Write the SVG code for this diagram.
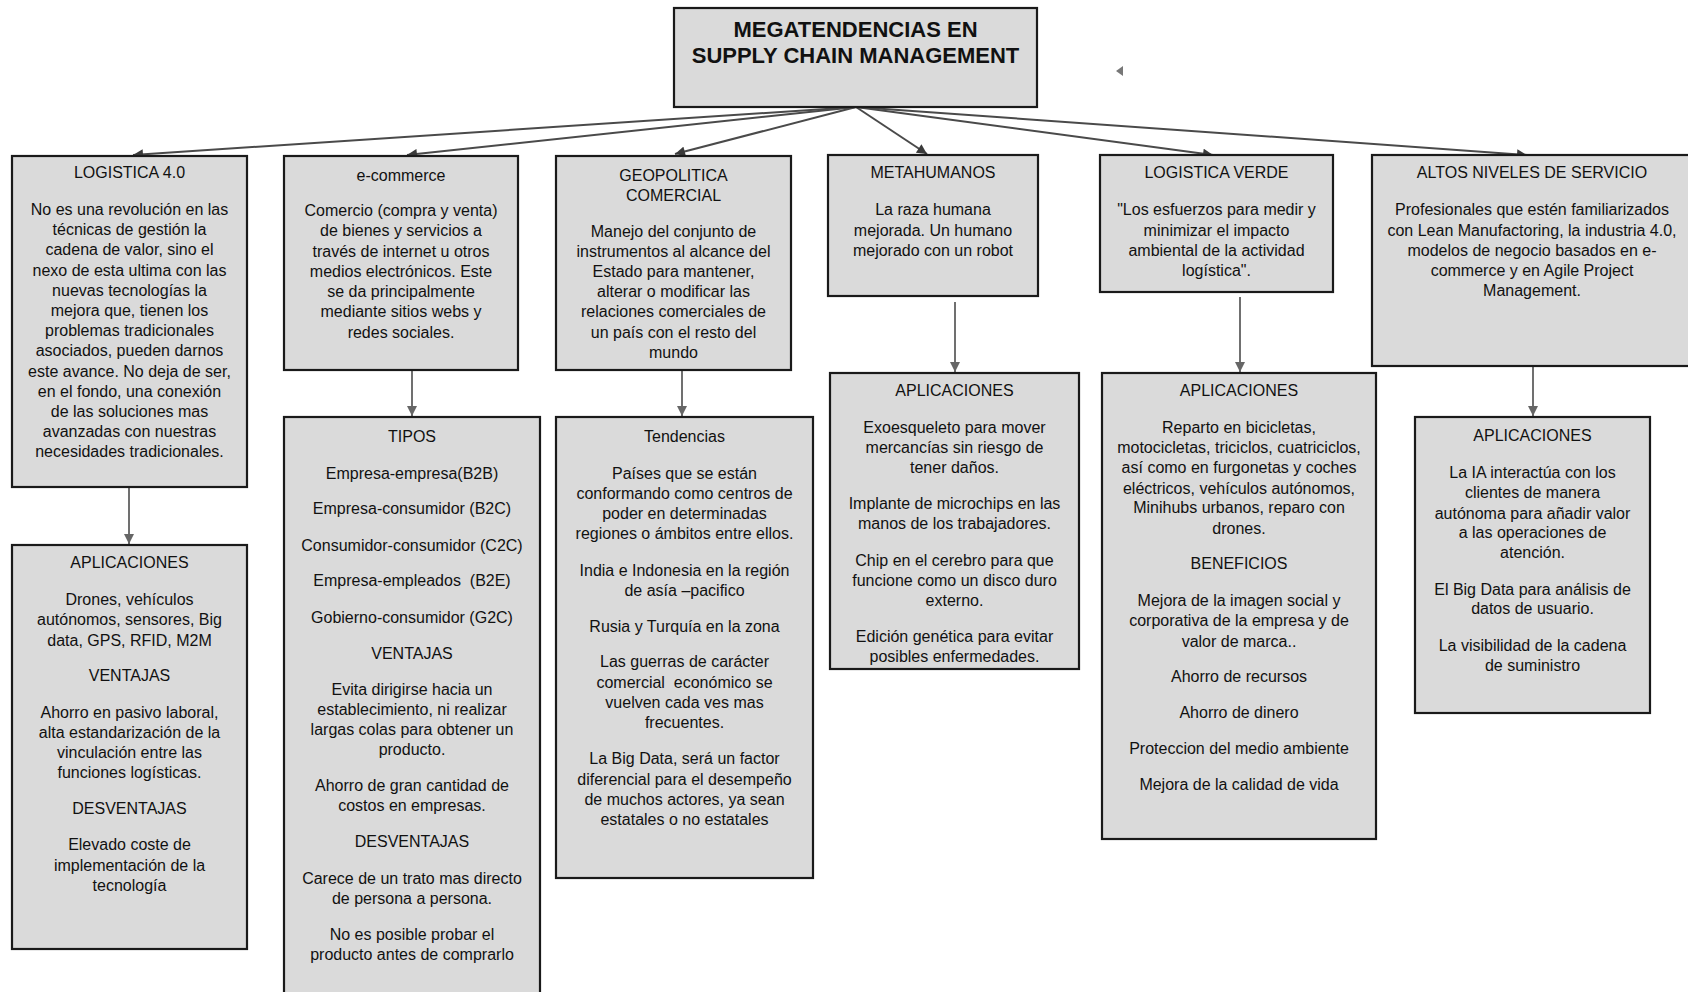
<svg xmlns="http://www.w3.org/2000/svg" width="1688" height="992" viewBox="0 0 1688 992">
  <style>
    .box { fill: #dadada; stroke: #1a1a1a; stroke-width: 2.2; }
    .t { font-family: "Liberation Sans", Arial, sans-serif; font-size: 16px; fill: #111111; text-anchor: middle; }
    .title { font-family: "Liberation Sans", Arial, sans-serif; font-size: 22px; font-weight: bold; fill: #111111; text-anchor: middle; }
    .link { fill: none; stroke: #4a4a4a; stroke-width: 2; marker-end: url(#head); }
    .drop { fill: none; stroke: #707070; stroke-width: 2; marker-end: url(#headGray); }
  </style>
  <defs>
    <marker id="head" viewBox="0 0 10 10" refX="10" refY="5" markerUnits="userSpaceOnUse" markerWidth="12" markerHeight="10" orient="auto">
      <path d="M0,0 L10,5 L0,10 z" fill="#3a3a3a"/>
    </marker>
    <marker id="headGray" viewBox="0 0 10 10" refX="10" refY="5" markerUnits="userSpaceOnUse" markerWidth="12" markerHeight="10" orient="auto">
      <path d="M0,0 L10,5 L0,10 z" fill="#666"/>
    </marker>
  </defs>
  <rect width="1688" height="992" fill="#ffffff"/>

  <!-- connectors -->
  <g id="connectors">
    <line class="link" x1="856" y1="107" x2="133" y2="155"/>
    <line class="link" x1="856" y1="107" x2="407" y2="155"/>
    <line class="link" x1="856" y1="107" x2="675" y2="154"/>
    <line class="link" x1="856" y1="107" x2="927" y2="154"/>
    <line class="link" x1="856" y1="107" x2="1213" y2="155"/>
    <line class="link" x1="856" y1="107" x2="1527" y2="155"/>
    <line class="drop" x1="129" y1="473" x2="129" y2="544"/>
    <line class="drop" x1="412" y1="371" x2="412" y2="416"/>
    <line class="drop" x1="682" y1="371" x2="682" y2="416"/>
    <line class="drop" x1="955" y1="302" x2="955" y2="372"/>
    <line class="drop" x1="1240" y1="297" x2="1240" y2="372"/>
    <line class="drop" x1="1533" y1="367" x2="1533" y2="416"/>
    <polygon points="1116,71 1123,66 1123,76" fill="#777"/>
  </g>

  <g id="root">
    <rect class="box" x="674" y="8" width="363" height="99"/>
    <text class="title" x="855.5" y="37">MEGATENDENCIAS EN</text>
    <text class="title" x="855.5" y="63">SUPPLY CHAIN MANAGEMENT</text>
  </g>

  <g id="logistica40">
    <rect class="box" x="12" y="156" width="235" height="331"/>
    <text class="t" x="129.5" y="178">LOGISTICA 4.0</text>
    <text class="t" x="129.5" y="215">No es una revolución en las</text>
    <text class="t" x="129.5" y="235">técnicas de gestión la</text>
    <text class="t" x="129.5" y="255">cadena de valor, sino el</text>
    <text class="t" x="129.5" y="275.5">nexo de esta ultima con las</text>
    <text class="t" x="129.5" y="295.5">nuevas tecnologías la</text>
    <text class="t" x="129.5" y="316">mejora que, tienen los</text>
    <text class="t" x="129.5" y="336">problemas tradicionales</text>
    <text class="t" x="129.5" y="356">asociados, pueden darnos</text>
    <text class="t" x="129.5" y="376.5">este avance. No deja de ser,</text>
    <text class="t" x="129.5" y="396.5">en el fondo, una conexión</text>
    <text class="t" x="129.5" y="417">de las soluciones mas</text>
    <text class="t" x="129.5" y="437">avanzadas con nuestras</text>
    <text class="t" x="129.5" y="457">necesidades tradicionales.</text>
  </g>

  <g id="logistica40-aplicaciones">
    <rect class="box" x="12" y="545" width="235" height="404"/>
    <text class="t" x="129.5" y="568">APLICACIONES</text>
    <text class="t" x="129.5" y="604.5">Drones, vehículos</text>
    <text class="t" x="129.5" y="625">autónomos, sensores, Big</text>
    <text class="t" x="129.5" y="645.5">data, GPS, RFID, M2M</text>
    <text class="t" x="129.5" y="681">VENTAJAS</text>
    <text class="t" x="129.5" y="717.5">Ahorro en pasivo laboral,</text>
    <text class="t" x="129.5" y="737.5">alta estandarización de la</text>
    <text class="t" x="129.5" y="757.5">vinculación entre las</text>
    <text class="t" x="129.5" y="778">funciones logísticas.</text>
    <text class="t" x="129.5" y="813.5">DESVENTAJAS</text>
    <text class="t" x="129.5" y="850">Elevado coste de</text>
    <text class="t" x="129.5" y="870.5">implementación de la</text>
    <text class="t" x="129.5" y="891">tecnología</text>
  </g>

  <g id="ecommerce">
    <rect class="box" x="284" y="156" width="234" height="214"/>
    <text class="t" x="401" y="180.5">e-commerce</text>
    <text class="t" x="401" y="216">Comercio (compra y venta)</text>
    <text class="t" x="401" y="236">de bienes y servicios a</text>
    <text class="t" x="401" y="256.5">través de internet u otros</text>
    <text class="t" x="401" y="276.5">medios electrónicos. Este</text>
    <text class="t" x="401" y="297">se da principalmente</text>
    <text class="t" x="401" y="317">mediante sitios webs y</text>
    <text class="t" x="401" y="337.5">redes sociales.</text>
  </g>

  <g id="ecommerce-tipos">
    <rect class="box" x="284" y="417" width="256" height="580"/>
    <text class="t" x="412" y="442">TIPOS</text>
    <text class="t" x="412" y="478.5">Empresa-empresa(B2B)</text>
    <text class="t" x="412" y="514">Empresa-consumidor (B2C)</text>
    <text class="t" x="412" y="550.5">Consumidor-consumidor (C2C)</text>
    <text class="t" x="412" y="586" xml:space="preserve">Empresa-empleados  (B2E)</text>
    <text class="t" x="412" y="622.5">Gobierno-consumidor (G2C)</text>
    <text class="t" x="412" y="658.5">VENTAJAS</text>
    <text class="t" x="412" y="695">Evita dirigirse hacia un</text>
    <text class="t" x="412" y="715">establecimiento, ni realizar</text>
    <text class="t" x="412" y="735">largas colas para obtener un</text>
    <text class="t" x="412" y="755">producto.</text>
    <text class="t" x="412" y="791">Ahorro de gran cantidad de</text>
    <text class="t" x="412" y="811">costos en empresas.</text>
    <text class="t" x="412" y="847">DESVENTAJAS</text>
    <text class="t" x="412" y="883.5">Carece de un trato mas directo</text>
    <text class="t" x="412" y="904">de persona a persona.</text>
    <text class="t" x="412" y="939.5">No es posible probar el</text>
    <text class="t" x="412" y="960">producto antes de comprarlo</text>
  </g>

  <g id="geopolitica">
    <rect class="box" x="556" y="156" width="235" height="214"/>
    <text class="t" x="673.5" y="180.5">GEOPOLITICA</text>
    <text class="t" x="673.5" y="201">COMERCIAL</text>
    <text class="t" x="673.5" y="236.5">Manejo del conjunto de</text>
    <text class="t" x="673.5" y="257">instrumentos al alcance del</text>
    <text class="t" x="673.5" y="276.5">Estado para mantener,</text>
    <text class="t" x="673.5" y="297">alterar o modificar las</text>
    <text class="t" x="673.5" y="317">relaciones comerciales de</text>
    <text class="t" x="673.5" y="337.5">un país con el resto del</text>
    <text class="t" x="673.5" y="358">mundo</text>
  </g>

  <g id="geopolitica-tendencias">
    <rect class="box" x="556" y="417" width="257" height="461"/>
    <text class="t" x="684.5" y="442">Tendencias</text>
    <text class="t" x="684.5" y="478.5">Países que se están</text>
    <text class="t" x="684.5" y="499">conformando como centros de</text>
    <text class="t" x="684.5" y="518.5">poder en determinadas</text>
    <text class="t" x="684.5" y="539">regiones o ámbitos entre ellos.</text>
    <text class="t" x="684.5" y="575.5">India e Indonesia en la región</text>
    <text class="t" x="684.5" y="596">de asía –pacifico</text>
    <text class="t" x="684.5" y="631.5">Rusia y Turquía en la zona</text>
    <text class="t" x="684.5" y="667">Las guerras de carácter</text>
    <text class="t" x="684.5" y="687.5" xml:space="preserve">comercial  económico se</text>
    <text class="t" x="684.5" y="708">vuelven cada ves mas</text>
    <text class="t" x="684.5" y="727.5">frecuentes.</text>
    <text class="t" x="684.5" y="764">La Big Data, será un factor</text>
    <text class="t" x="684.5" y="784.5">diferencial para el desempeño</text>
    <text class="t" x="684.5" y="805">de muchos actores, ya sean</text>
    <text class="t" x="684.5" y="825">estatales o no estatales</text>
  </g>

  <g id="metahumanos">
    <rect class="box" x="828" y="155" width="210" height="141"/>
    <text class="t" x="933" y="178">METAHUMANOS</text>
    <text class="t" x="933" y="215">La raza humana</text>
    <text class="t" x="933" y="235.5">mejorada. Un humano</text>
    <text class="t" x="933" y="255.5">mejorado con un robot</text>
  </g>

  <g id="metahumanos-aplicaciones">
    <rect class="box" x="830" y="373" width="249" height="296"/>
    <text class="t" x="954.5" y="396">APLICACIONES</text>
    <text class="t" x="954.5" y="432.5">Exoesqueleto para mover</text>
    <text class="t" x="954.5" y="452.5">mercancías sin riesgo de</text>
    <text class="t" x="954.5" y="473">tener daños.</text>
    <text class="t" x="954.5" y="509">Implante de microchips en las</text>
    <text class="t" x="954.5" y="529">manos de los trabajadores.</text>
    <text class="t" x="954.5" y="566">Chip en el cerebro para que</text>
    <text class="t" x="954.5" y="585.5">funcione como un disco duro</text>
    <text class="t" x="954.5" y="605.5">externo.</text>
    <text class="t" x="954.5" y="642">Edición genética para evitar</text>
    <text class="t" x="954.5" y="661.5">posibles enfermedades.</text>
  </g>

  <g id="logistica-verde">
    <rect class="box" x="1100" y="155" width="233" height="137"/>
    <text class="t" x="1216.5" y="178">LOGISTICA VERDE</text>
    <text class="t" x="1216.5" y="215">"Los esfuerzos para medir y</text>
    <text class="t" x="1216.5" y="235.5">minimizar el impacto</text>
    <text class="t" x="1216.5" y="255.5">ambiental de la actividad</text>
    <text class="t" x="1216.5" y="276">logística".</text>
  </g>

  <g id="logistica-verde-aplicaciones">
    <rect class="box" x="1102" y="373" width="274" height="466"/>
    <text class="t" x="1239" y="396">APLICACIONES</text>
    <text class="t" x="1239" y="432.5">Reparto en bicicletas,</text>
    <text class="t" x="1239" y="452.5">motocicletas, triciclos, cuatriciclos,</text>
    <text class="t" x="1239" y="473">así como en furgonetas y coches</text>
    <text class="t" x="1239" y="493.5">eléctricos, vehículos autónomos,</text>
    <text class="t" x="1239" y="513">Minihubs urbanos, reparo con</text>
    <text class="t" x="1239" y="533.5">drones.</text>
    <text class="t" x="1239" y="569">BENEFICIOS</text>
    <text class="t" x="1239" y="605.5">Mejora de la imagen social y</text>
    <text class="t" x="1239" y="626">corporativa de la empresa y de</text>
    <text class="t" x="1239" y="646.5">valor de marca..</text>
    <text class="t" x="1239" y="682">Ahorro de recursos</text>
    <text class="t" x="1239" y="717.5">Ahorro de dinero</text>
    <text class="t" x="1239" y="754">Proteccion del medio ambiente</text>
    <text class="t" x="1239" y="789.5">Mejora de la calidad de vida</text>
  </g>

  <g id="altos-niveles">
    <rect class="box" x="1372" y="155" width="320" height="211"/>
    <text class="t" x="1532" y="178">ALTOS NIVELES DE SERVICIO</text>
    <text class="t" x="1532" y="215">Profesionales que estén familiarizados</text>
    <text class="t" x="1532" y="235.5">con Lean Manufactoring, la industria 4.0,</text>
    <text class="t" x="1532" y="255.5">modelos de negocio basados en e-</text>
    <text class="t" x="1532" y="276">commerce y en Agile Project</text>
    <text class="t" x="1532" y="295.5">Management.</text>
  </g>

  <g id="altos-niveles-aplicaciones">
    <rect class="box" x="1415" y="417" width="235" height="296"/>
    <text class="t" x="1532.5" y="441">APLICACIONES</text>
    <text class="t" x="1532.5" y="477.5">La IA interactúa con los</text>
    <text class="t" x="1532.5" y="498">clientes de manera</text>
    <text class="t" x="1532.5" y="518.5">autónoma para añadir valor</text>
    <text class="t" x="1532.5" y="538">a las operaciones de</text>
    <text class="t" x="1532.5" y="558">atención.</text>
    <text class="t" x="1532.5" y="595">El Big Data para análisis de</text>
    <text class="t" x="1532.5" y="614">datos de usuario.</text>
    <text class="t" x="1532.5" y="651">La visibilidad de la cadena</text>
    <text class="t" x="1532.5" y="671">de suministro</text>
  </g>
</svg>
